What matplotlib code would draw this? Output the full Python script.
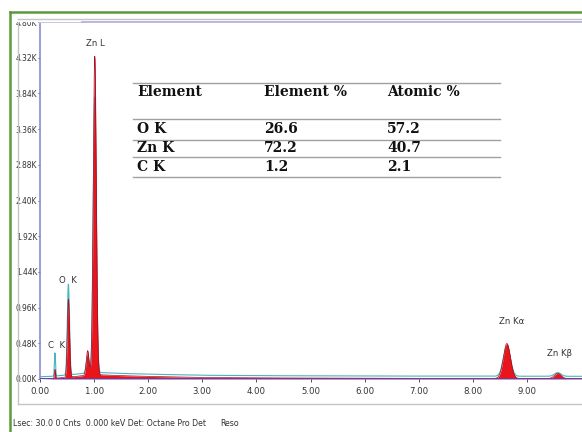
import numpy as np
import matplotlib
matplotlib.use("Agg")
import matplotlib.pyplot as plt
from matplotlib import font_manager
from matplotlib.font_manager import FontProperties
from matplotlib.lines import Line2D
from matplotlib.patches import Rectangle

W, H = 582, 432


def _weight(w):
    try:
        return int(w)
    except (TypeError, ValueError):
        return {"normal": 400, "regular": 400, "book": 400, "bold": 700}.get(str(w), 500)


# prefer a condensed sans face for the instrument labels
_cond = [f for f in font_manager.fontManager.ttflist
         if f.style == "normal"
         and (f.stretch in ("condensed", "semi-condensed", "extra-condensed", "ultra-condensed")
              or "Narrow" in f.name or "Condensed" in f.name)]
_cond.sort(key=lambda f: abs(_weight(f.weight) - 400))
if _cond:
    def small_font(size=6.6):
        return FontProperties(fname=_cond[0].fname, size=size)
else:
    def small_font(size=6.6):
        return FontProperties(family=["Liberation Sans", "DejaVu Sans"], size=size * 0.92)

SERIF = ["DejaVu Serif"]

# EDS peaks: energy (keV), counts (K), width sigma (keV)
peak_names = ["C K", "O K", "Zn Ll", "Zn L", "Zn Kα", "Zn Kβ"]
peak_energy = [0.277, 0.525, 0.88, 1.012, 8.63, 9.57]
peak_sigma = [0.010, 0.020, 0.025, 0.028, 0.065, 0.060]
fill_counts = [0.12, 1.05, 0.33, 4.28, 0.47, 0.07]
line_counts = [0.31, 1.22, 0.22, 3.70, 0.40, 0.05]

# bremsstrahlung background (keV, K counts)
bg_energy = [0.0, 0.2, 0.6, 1.0, 1.5, 2.0, 3.0, 4.0, 6.0, 8.0, 10.1]
bg_counts = [0.0, 0.005, 0.03, 0.06, 0.045, 0.035, 0.02, 0.015, 0.01, 0.008, 0.006]

# peak annotations (text, energy, counts)
annotations = [("Zn L", 1.02, 4.45), ("O  K", 0.52, 1.26), ("C  K", 0.31, 0.39),
               ("Zn Kα", 8.72, 0.71), ("Zn Kβ", 9.61, 0.28)]

# quantification table
table_header = ["Element", "Element %", "Atomic %"]
table_elements = ["O K", "Zn K", "C K"]
table_weight = ["26.6", "72.2", "1.2"]
table_atomic = ["57.2", "40.7", "2.1"]

y_ticks = [0.00, 0.48, 0.96, 1.44, 1.92, 2.40, 2.88, 3.36, 3.84, 4.32, 4.80]
x_ticks = [0, 1, 2, 3, 4, 5, 6, 7, 8, 9]

footer = "Lsec: 30.0 0 Cnts  0.000 keV Det: Octane Pro Det"
footer_tail = "Reso"


def fx(px):
    return px / W


def fy(py):
    return 1 - py / H


def spectrum(counts, e):
    s = np.interp(e, bg_energy, bg_counts)
    for c, mu, sg in zip(counts, peak_energy, peak_sigma):
        s = s + c * np.exp(-0.5 * ((e - mu) / sg) ** 2)
    return s


fig = plt.figure(figsize=(W / 100, H / 100), dpi=100)
fig.patch.set_facecolor("white")

ax_left, ax_top, ax_bottom = 40, 22, 379
x_max = (W - ax_left) / 54.1
ax = fig.add_axes([fx(ax_left), fy(ax_bottom), 1 - fx(ax_left), (ax_bottom - ax_top) / H])
ax.set_xlim(0, x_max)
ax.set_ylim(0, 4.80)

e = np.linspace(0, x_max, 8000)
s_fill = spectrum(fill_counts, e)
s_line = spectrum(line_counts, e)
ax.plot(e, s_line + 0.03, color="#4ab4c0", lw=0.8, zorder=2)
ax.fill_between(e, 0, s_fill, color="#e8161c", lw=0, zorder=3)
ax.plot(e, s_fill, color="#9a1028", lw=0.5, zorder=4)
ax.axhline(0.0, color="#4848c8", lw=1.4, zorder=5)

for txt, xe, yc in annotations:
    ax.text(xe, yc, txt, ha="center", va="bottom", fontproperties=small_font(6.8),
            color="#333333")

ax.set_xticks(x_ticks)
ax.set_xticklabels([f"{v:.2f}" for v in x_ticks])
ax.set_yticks(y_ticks)
ax.set_yticklabels([f"{v:.2f}K" for v in y_ticks])
ax.tick_params(axis="both", colors="#333333", length=2, width=0.6, pad=4)
ax.tick_params(axis="y", pad=0.5, length=1.5)
for lab in ax.get_xticklabels():
    lab.set_fontproperties(small_font(6.8))
for lab in ax.get_yticklabels():
    lab.set_fontproperties(small_font(6.0))
ax.spines["right"].set_visible(False)
ax.spines["bottom"].set_visible(False)
ax.spines["left"].set_color("#8c8cd0")
ax.spines["top"].set_color("#b8b8e0")
ax.spines["left"].set_linewidth(1.2)
ax.spines["top"].set_linewidth(1.4)

# quantification table
col_x = [137, 264, 387]
for cx, h in zip(col_x, table_header):
    fig.text(fx(cx), fy(92), h, family=SERIF, weight="bold", fontsize=10,
             va="center", ha="left", color="#111111")
row_y = [129, 148, 167]
for ry, el, wt, at in zip(row_y, table_elements, table_weight, table_atomic):
    for cx, v in zip(col_x, [el, wt, at]):
        fig.text(fx(cx), fy(ry), v, family=SERIF, weight="bold", fontsize=10,
                 va="center", ha="left", color="#111111")
for ly in [82.5, 119, 139.5, 157.5, 177]:
    fig.add_artist(Line2D([fx(133), fx(500)], [fy(ly), fy(ly)],
                          color="#a0a0a0", lw=1.0))

# panel frame
fig.add_artist(Rectangle((fx(0), fy(21)), fx(80), 9 / H, color="white",
                         zorder=10, transform=fig.transFigure))
fig.add_artist(Line2D([fx(18), fx(18)], [fy(19), fy(404)], color="#c4c4c4", lw=1.0, zorder=1))
fig.add_artist(Line2D([fx(18), 1], [fy(404), fy(404)], color="#c4c4c4", lw=1.0, zorder=11))
fig.add_artist(Line2D([fx(18), 1], [fy(19), fy(19)], color="#c4c4c4", lw=1.0, zorder=11))
fig.add_artist(Line2D([fx(10), fx(10)], [fy(12), 0], color="#5e9a3c", lw=1.8, zorder=11))
fig.add_artist(Line2D([fx(10), 1], [fy(12), fy(12)], color="#5e9a3c", lw=1.8, zorder=11))

fig.text(fx(13), fy(423), footer, fontproperties=small_font(6.3), va="center",
         ha="left", color="#333333")
fig.text(fx(220), fy(423), footer_tail, fontproperties=small_font(6.3), va="center",
         ha="left", color="#333333")

fig.savefig("out.png", dpi=100, facecolor="white")
